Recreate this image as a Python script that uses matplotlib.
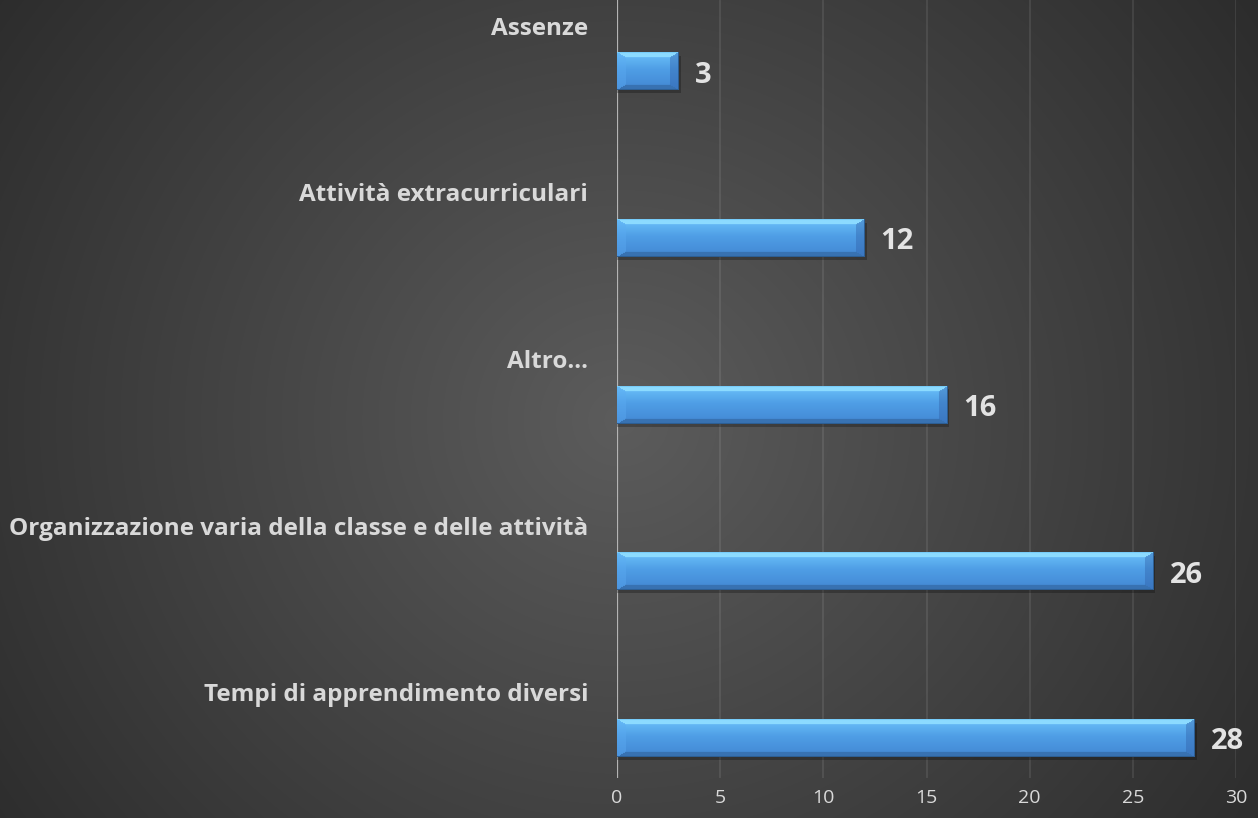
import numpy as np
import matplotlib
matplotlib.use("Agg")
import matplotlib.pyplot as plt

categories = ["Tempi di apprendimento diversi",
              "Organizzazione varia della classe e delle attività",
              "Altro…",
              "Attività extracurriculari",
              "Assenze"]
values = [28, 26, 16, 12, 3]
xticks = [0, 5, 10, 15, 20, 25, 30]

W, H, DPI = 1258, 818, 100
plt.rcParams['font.family'] = ['Open Sans', 'DejaVu Sans']

fig = plt.figure(figsize=(W / DPI, H / DPI), dpi=DPI)

# radial background
bg = fig.add_axes([0, 0, 1, 1], zorder=-10)
yy, xx = np.mgrid[0:H, 0:W]
r = np.sqrt((xx - 620.0) ** 2 + ((yy - 420.0) * 1.05) ** 2)
v = np.clip(92 - 0.062 * r, 43, 255) / 255.0
bg.imshow(np.dstack([v, v, v]), extent=(0, 1, 0, 1), aspect='auto', origin='upper')
bg.set_axis_off()

ax = fig.add_axes([617 / W, 1 - 778 / H, (1236 - 617) / W, 778 / H])
ax.set_facecolor('none')
for s in ax.spines.values():
    s.set_visible(False)

ypos = np.arange(len(categories))
bar_h = 0.222
bars = ax.barh(ypos, values, height=bar_h, color='#4c97e2', zorder=3, linewidth=0)

ax.set_xlim(0, 30)
ax.set_ylim(-0.237, 4.429)

px_per_x = (1236 - 617) / 30.0
px_per_y = 166.75

def bar_image(wp, hp):
    wp = max(int(round(wp)), 2)
    hp = max(int(round(hp)), 2)
    t = np.linspace(0, 1, hp)[:, None]
    top = np.array([0.42, 0.76, 0.98])
    mid = np.array([0.31, 0.62, 0.90])
    bot = np.array([0.26, 0.53, 0.83])
    col = np.where(t[..., None] < 0.45,
                   top + (mid - top) * (t[..., None] / 0.45),
                   mid + (bot - mid) * ((t[..., None] - 0.45) / 0.55))
    img = np.repeat(col, wp, axis=1)
    ys = np.arange(hp)[:, None] + 0.5
    xs = np.arange(wp)[None, :] + 0.5
    d_top = ys * np.ones_like(xs)
    d_bot = (hp - ys) * np.ones_like(xs)
    d_left = xs * np.ones_like(ys)
    d_right = (wp - xs) * np.ones_like(ys)
    bv_y = 5.0
    bv_x = 9.0
    stack = np.stack([d_top / bv_y, d_bot / bv_y, d_left / bv_x, d_right / bv_x])
    which = np.argmin(stack, axis=0)
    inside = np.min(stack, axis=0) < 1
    top_c = np.array([0.55, 0.86, 1.00])
    bot_c = np.array([0.22, 0.45, 0.70])
    left_c = np.array([0.33, 0.64, 0.92])
    right_c = np.array([0.26, 0.52, 0.80])
    for k, c in enumerate([top_c, bot_c, left_c, right_c]):
        m = inside & (which == k)
        if k in (2, 3):
            shade = (col[:, 0, :] - mid) * 0.6
            cc = np.repeat((c + shade)[:, None, :], wp, axis=1)
            img[m] = cc[m]
        else:
            img[m] = c
    img[0, :] = [0.47, 0.80, 0.98]
    img[-1, :] = [0.18, 0.37, 0.58]
    img[:, -1] = [0.18, 0.37, 0.58]
    return np.clip(img, 0, 1)

for b in bars:
    x0, y0, w, h = b.get_x(), b.get_y(), b.get_width(), b.get_height()
    ax.barh(y0 + h / 2 - 3.0 / px_per_y, w + 2.0 / px_per_x, height=h, left=x0,
            color='black', alpha=0.25, zorder=2.5, linewidth=0)
    img = bar_image(w * px_per_x, h * px_per_y)
    ax.imshow(img, extent=(x0, x0 + w, y0, y0 + h), aspect='auto',
              origin='upper', zorder=3.5, interpolation='bilinear')

ax.set_xlim(0, 30)
ax.set_ylim(-0.237, 4.429)

ax.set_xticks(xticks)
ax.set_xticklabels([str(t) for t in xticks])
ax.set_yticks([])
ax.tick_params(axis='x', length=0, pad=8, labelsize=14, labelcolor='#d9d9d9')
ax.grid(axis='x', color='white', alpha=0.1, linewidth=1.2, zorder=1)
ax.set_axisbelow(True)
ax.axvline(0, color='#b4b4b4', linewidth=1.6, zorder=2)

# fit category font size so the longest label spans like the reference
renderer = fig.canvas.get_renderer()
probe = fig.text(0, 0, categories[1], fontsize=16, fontweight='bold')
wpx = probe.get_window_extent(renderer).width
probe.remove()
cat_size = 16 * 578.0 / wpx

for i, (cat, val) in enumerate(zip(categories, values)):
    ax.annotate(cat, xy=(0, ypos[i]), xycoords='data', xytext=(-29, 37),
                textcoords='offset pixels', ha='right', va='baseline',
                fontsize=cat_size, fontweight='bold', color='#d9d9d9',
                annotation_clip=False)
    ax.annotate(str(val), xy=(val, ypos[i]), xycoords='data', xytext=(16, -11),
                textcoords='offset pixels', ha='left', va='baseline',
                fontsize=21, fontweight='bold', color='#e3e3e3',
                annotation_clip=False)

fig.savefig('out.png', dpi=DPI)
